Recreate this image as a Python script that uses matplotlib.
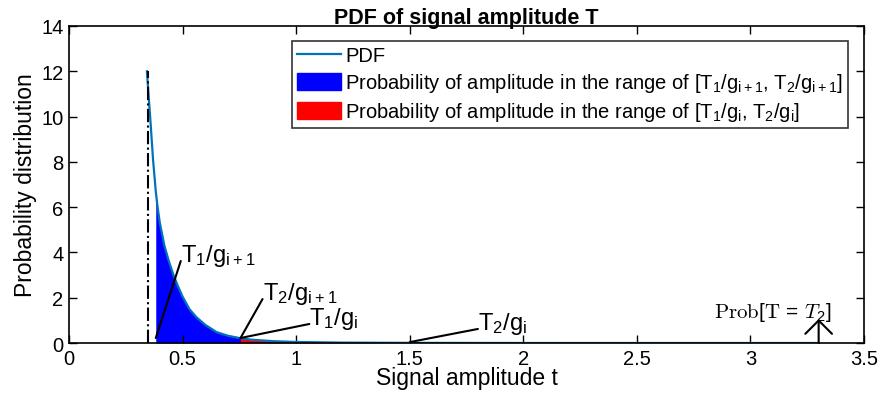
import matplotlib
matplotlib.use('Agg')
import matplotlib.pyplot as plt
from matplotlib.lines import Line2D
from matplotlib.patches import Patch
import numpy as np

plt.rcParams['font.family'] = ['Liberation Sans', 'DejaVu Sans']
plt.rcParams['mathtext.default'] = 'regular'

# PDF curve
t_vals = [0.343, 0.35, 0.36, 0.37, 0.382, 0.39, 0.40, 0.42, 0.44, 0.46, 0.48,
          0.50, 0.53, 0.56, 0.60, 0.65, 0.70, 0.755, 0.80, 0.90, 1.00, 1.20,
          1.50, 2.00, 2.50, 3.30]
pdf_vals = [12.0, 11.0, 9.6, 8.1, 6.7, 6.0, 5.3, 4.3, 3.6, 3.0, 2.5,
            2.05, 1.5, 1.15, 0.8, 0.48, 0.32, 0.21, 0.15, 0.08, 0.045, 0.018,
            0.006, 0.001, 0.0, 0.0]

t_min = 0.347          # dash-dot marker
t1_gi1 = 0.382         # T1/g_{i+1}
t2_gi1 = 0.755         # T2/g_{i+1} (= T1/g_i)
t2_gi = 1.5            # T2/g_i
t_prob = 3.3           # Prob[T = T2]

# annotation labels: (label, point, text position)
notes = [
    (r'T$_1$/g$_{i+1}$', (t1_gi1, 0.22), (0.492, 3.62)),
    (r'T$_2$/g$_{i+1}$', (t2_gi1, 0.22), (0.852, 1.94)),
    (r'T$_1$/g$_i$', (t2_gi1, 0.22), (1.058, 0.84)),
    (r'T$_2$/g$_i$', (t2_gi, 0.04), (1.80, 0.62)),
]

t = np.array(t_vals)
p = np.array(pdf_vals)

fig = plt.figure(figsize=(8.81, 4.06), dpi=100)
ax = fig.add_axes([0.0783, 0.1527, 0.9025, 0.7808])

blue = (t >= t1_gi1) & (t <= t2_gi1)
red = (t >= t2_gi1) & (t <= t2_gi)
ax.fill_between(t[blue], 0, p[blue], color=(0, 0, 1), lw=0)
ax.fill_between(t[red], 0, p[red], color=(1, 0, 0), lw=0)
ax.plot(t, p, color='#0072BD', lw=1.6)
ax.plot([t_min, t_min], [0, max(pdf_vals)], color='k', lw=1.5, ls='-.')

for label, xy, xyt in notes:
    ax.annotate('', xy=xy, xytext=xyt,
                arrowprops=dict(arrowstyle='-', color='k', lw=1.5,
                                shrinkA=0, shrinkB=0))
    ax.text(xyt[0], xyt[1], label, fontsize=17, ha='left', va='baseline')

ax.annotate('', xy=(t_prob, 1.06), xytext=(t_prob, 0),
            arrowprops=dict(arrowstyle='->,head_length=0.8,head_width=0.8',
                            color='k', lw=1.5, shrinkA=0, shrinkB=0,
                            mutation_scale=12))
ax.text(3.10, 1.15, r'$\mathrm{Prob}[\mathrm{T}\,=\,\mathit{T}_2]$', fontsize=15,
        ha='center', va='baseline', math_fontfamily='cm')

ax.set_xlim(0, 3.5)
ax.set_ylim(0, 14)
ax.set_xticks(np.arange(0, 3.51, 0.5))
ax.set_xticklabels(['0', '0.5', '1', '1.5', '2', '2.5', '3', '3.5'])
ax.set_yticks(np.arange(0, 15, 2))
ax.tick_params(direction='in', length=6, width=1, top=True, right=True,
               labelsize=14.5, pad=4)
for s in ax.spines.values():
    s.set_linewidth(1.2)

ax.set_title('PDF of signal amplitude T', fontsize=15.5, fontweight='bold', pad=2)
ax.set_xlabel('Signal amplitude t', fontsize=16.5, labelpad=-1)
ax.set_ylabel('Probability distribution', fontsize=16.5, labelpad=3)

handles = [Line2D([], [], color='#0072BD', lw=1.6),
           Patch(color=(0, 0, 1)), Patch(color=(1, 0, 0))]
labels = ['PDF',
          r'Probability of amplitude in the range of [T$_1$/g$_{i+1}$, T$_2$/g$_{i+1}$]',
          r'Probability of amplitude in the range of [T$_1$/g$_i$, T$_2$/g$_i$]']
leg = ax.legend(handles, labels, loc='upper right', bbox_to_anchor=(0.98, 0.953),
                fontsize=14.5, frameon=True, fancybox=False, edgecolor='k',
                handlelength=2.2, handleheight=0.9, handletextpad=0.2,
                labelspacing=0.3, borderpad=0.25, borderaxespad=0)
leg.get_frame().set_linewidth(1.2)

fig.savefig('out.png', dpi=100)
